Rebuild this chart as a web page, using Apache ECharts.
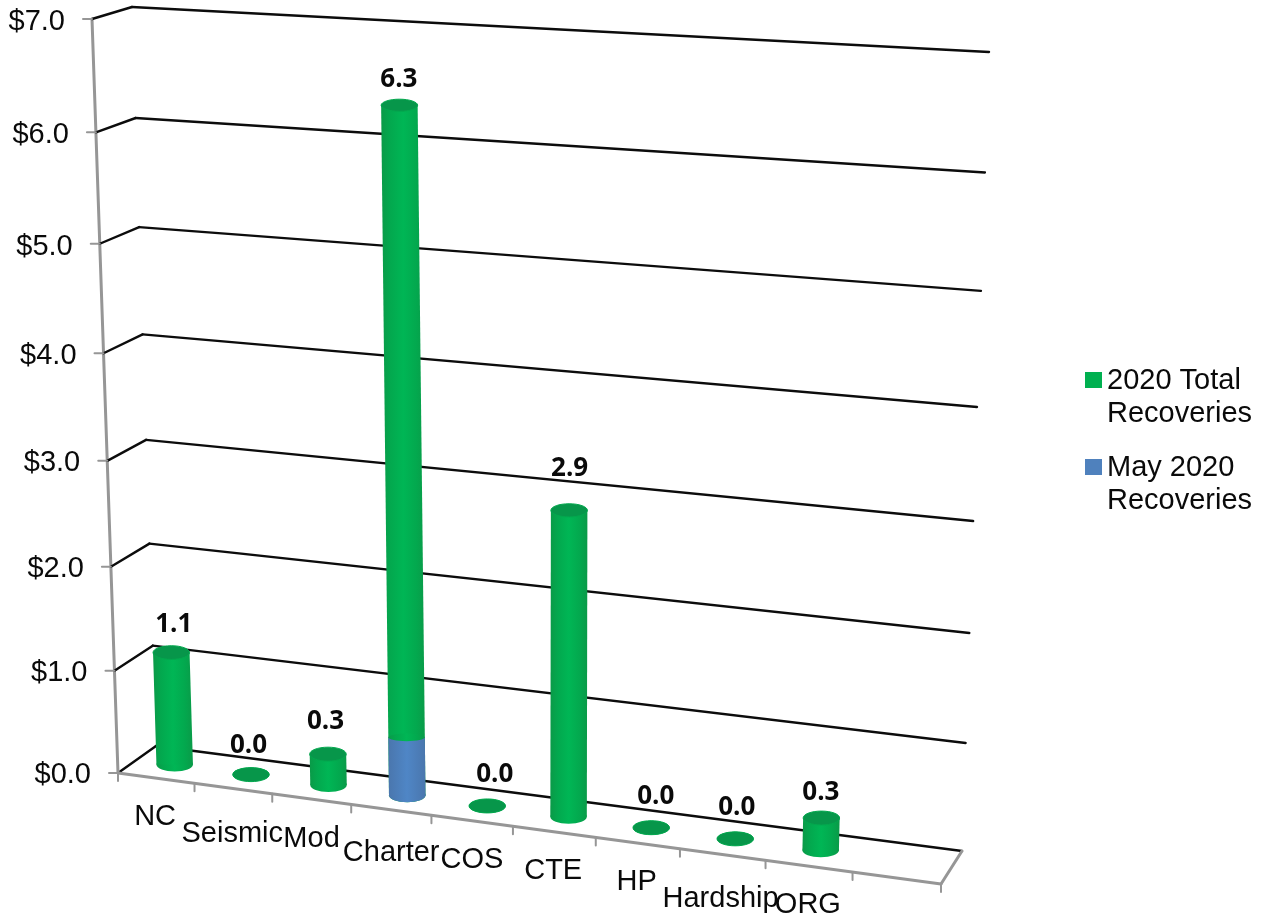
<!DOCTYPE html>
<html><head><meta charset="utf-8">
<style>html,body{margin:0;padding:0;background:#fff}#c{width:1267px;height:917px}</style>
<script src="https://cdn.jsdelivr.net/npm/echarts@6/dist/echarts.min.js"></script>
</head><body><div id="c"></div>
<script>
const categories = ['NC','Seismic','Mod','Charter','COS','CTE','HP','Hardship','ORG',''];
const totalValues = [1.1,0,0.3,6.34,0,2.86,0,0,0.3];
const mayValues = [0,0,0,0.56,0,0,0,0,0];
const totalLabels = ['1.1','0.0','0.3','6.3','0.0','2.9','0.0','0.0','0.3'];
const valueTicks = [0,1,2,3,4,5,6,7];
const valueTickLabels = ['$0.0','$1.0','$2.0','$3.0','$4.0','$5.0','$6.0','$7.0'];

// 3D box layout (screen corners of the plot box)
const FRONT = {a:[118,773], b:[941,884], c:[968,70], d:[92,19]};
const BACK  = {a:[156,746], b:[962,851], c:[989,52], d:[132,7]};
const DEPTH = 0.5;
const catNudge = [[-1,39],[-1,45],[0,40],[0,43],[0,39],[-1,39],[-1,39],[-2,44],[-1,39],[0,0]];
const lblNudge = [[2.5,-27.5],[-2.5,-29.5],[-2.5,-32.5],[-0.5,-25.5],[7.5,-31.5],[0.5,-41.5],[4.5,-31.5],[1.5,-31.5],[-0.5,-25.5]];
const W = 1267, H = 917, XMAX = categories.length;

function homography(q){
  const [x0,y0]=q.a,[x1,y1]=q.b,[x2,y2]=q.c,[x3,y3]=q.d;
  const dx1=x1-x2,dx2=x3-x2,sx=x0-x1+x2-x3,dy1=y1-y2,dy2=y3-y2,sy=y0-y1+y2-y3;
  const den=dx1*dy2-dx2*dy1;
  const g=(sx*dy2-dx2*sy)/den,h=(dx1*sy-sx*dy1)/den;
  const a=x1-x0+g*x1,b=x3-x0+h*x3,c=x0,d=y1-y0+g*y1,e=y3-y0+h*y3,f=y0;
  return (s,t)=>{const w=g*s+h*t+1;return [(a*s+b*t+c)/w,(d*s+e*t+f)/w];};
}
const hF=homography(FRONT), hB=homography(BACK);
// api.coord gives the flat grid position; it is then projected onto the box.
function proj(api,x,v,z){
  const c=api.coord([x,v]);
  const s=c[0]/W,t=1-c[1]/H;
  const f=hF(s,t),b=hB(s,t);
  return [f[0]+(b[0]-f[0])*z,f[1]+(b[1]-f[1])*z];
}
const line=(p,q,color,w)=>({type:'line',silent:true,shape:{x1:p[0],y1:p[1],x2:q[0],y2:q[1]},style:{stroke:color,lineWidth:w,lineCap:'round'}});
const text=(s,x,y,font,align)=>({type:'text',silent:true,style:{text:s,x,y,font,fill:'#0a0a0a',align:align||'center',verticalAlign:'middle'}});
const AXIS='#969696',GRID='#0c0c0c',FONT='29px "Liberation Sans"';

function renderValueFrame(params,api){
  const v=api.value(1),i=params.dataIndex;
  const f0=proj(api,0,v,0),b0=proj(api,0,v,1),b1=proj(api,XMAX,v,1);
  const ch=[line(f0,b0,GRID,2.4),line(b0,b1,GRID,2.4),line([f0[0]-9,f0[1]],f0,AXIS,2)];
  ch.push(text(valueTickLabels[i],f0[0]-27,f0[1]+2+v*0.15,FONT,'right'));
  if(i===0){
    ch.push(line(proj(api,0,0,0),proj(api,0,7,0),AXIS,3));
    ch.push(line(proj(api,0,0,0),proj(api,XMAX,0,0),AXIS,3));
    ch.push(line(proj(api,XMAX,0,0),proj(api,XMAX,0,1),AXIS,3));
  }
  return {type:'group',children:ch};
}
function renderCatAxis(params,api){
  const i=params.dataIndex,x=api.value(0);
  const p=proj(api,x,0,0);
  const ch=[line(p,[p[0],p[1]+8],AXIS,2)];
  if(i===0){const e=proj(api,XMAX,0,0);ch.push(line(e,[e[0],e[1]+8],AXIS,2));}
  return {type:'group',children:ch};
}
function renderCatLabel(params,api){
  const i=params.dataIndex,x=api.value(0);
  const p=proj(api,x,0,0),n=catNudge[i];
  return text(categories[i],p[0]+n[0],p[1]+n[1],FONT);
}
const RX=18.25;
const stops=(a)=>a.map(s=>({offset:s[0],color:s[1]}));
const grad=(a)=>new echarts.graphic.LinearGradient(0,0,1,0,stops(a));
const GREEN=[[0,'#0a9a48'],[0.2,'#03a84e'],[0.5,'#00b655'],[0.8,'#03a84e'],[1,'#0a9a48']];
const BLUE=[[0,'#4a76ad'],[0.5,'#4f86c6'],[1,'#4a76ad']];
function cylinder(api,x,v,col,cap){
  const b=proj(api,x,0,DEPTH),t=proj(api,x,v,DEPTH);
  const ch=[];
  const ryB=7,ryT=7-v*0.15;
  const fill=grad(col);
  ch.push({type:'ellipse',silent:true,shape:{cx:b[0],cy:b[1],rx:RX,ry:ryB},style:{fill}});
  ch.push({type:'polygon',silent:true,shape:{points:[[t[0]-RX,t[1]],[t[0]+RX,t[1]],[b[0]+RX,b[1]],[b[0]-RX,b[1]]]},style:{fill}});
  if(cap) ch.push({type:'ellipse',silent:true,shape:{cx:t[0],cy:t[1],rx:RX,ry:ryT},style:{fill:'#07964a',stroke:'#03a84e',lineWidth:1}});
  else ch.push({type:'ellipse',silent:true,shape:{cx:t[0],cy:t[1],rx:RX,ry:ryT-3},style:{fill:grad(GREEN)}});
  return ch;
}
function renderTotal(params,api){
  const x=api.value(0),v=api.value(1),i=params.dataIndex;
  const ch=cylinder(api,x,v,GREEN,true);
  const t=proj(api,x,v,DEPTH),n=lblNudge[i];
  ch.push(text(totalLabels[i],t[0]+n[0],t[1]+n[1],'bold 26px "Open Sans"'));
  return {type:'group',children:ch};
}
function renderMay(params,api){
  const x=api.value(0),v=api.value(1);
  if(!v) return null;
  return {type:'group',children:cylinder(api,x,v,BLUE,false)};
}
const centers=categories.map((_,i)=>i+0.5);
const chart=echarts.init(document.getElementById('c'));
chart.setOption({
  animation:false,
  backgroundColor:'#fff',
  grid:{left:0,right:0,top:0,bottom:0},
  xAxis:{type:'value',min:0,max:XMAX,interval:1,show:false},
  yAxis:{type:'value',min:0,max:7,interval:1,show:false},
  legend:{
    left:1080,top:359,orient:'vertical',itemWidth:17,itemHeight:66,itemGap:21,selectedMode:false,
    icon:'path://M0 0M0 8h17v16h-17zM17 66',
    textStyle:{fontFamily:'Liberation Sans',fontSize:29,color:'#0a0a0a',lineHeight:33},
    data:['2020 Total\nRecoveries','May 2020\nRecoveries']
  },
  series:[
    {type:'custom',name:'frame',silent:true,clip:false,renderItem:renderValueFrame,data:valueTicks.map(v=>[0,v])},
    {type:'custom',name:'catAxis',silent:true,clip:false,renderItem:renderCatAxis,data:centers.map(c=>[c-0.5,0])},
    {type:'custom',name:'catLabels',silent:true,clip:false,renderItem:renderCatLabel,data:centers.map(c=>[c,0])},
    {type:'custom',name:'2020 Total\nRecoveries',silent:true,clip:false,itemStyle:{color:'#00b050'},renderItem:renderTotal,data:totalValues.map((v,i)=>[centers[i],v])},
    {type:'custom',name:'May 2020\nRecoveries',silent:true,clip:false,itemStyle:{color:'#4f81bd'},renderItem:renderMay,data:mayValues.map((v,i)=>[centers[i],v])}
  ]
});
</script></body></html>
